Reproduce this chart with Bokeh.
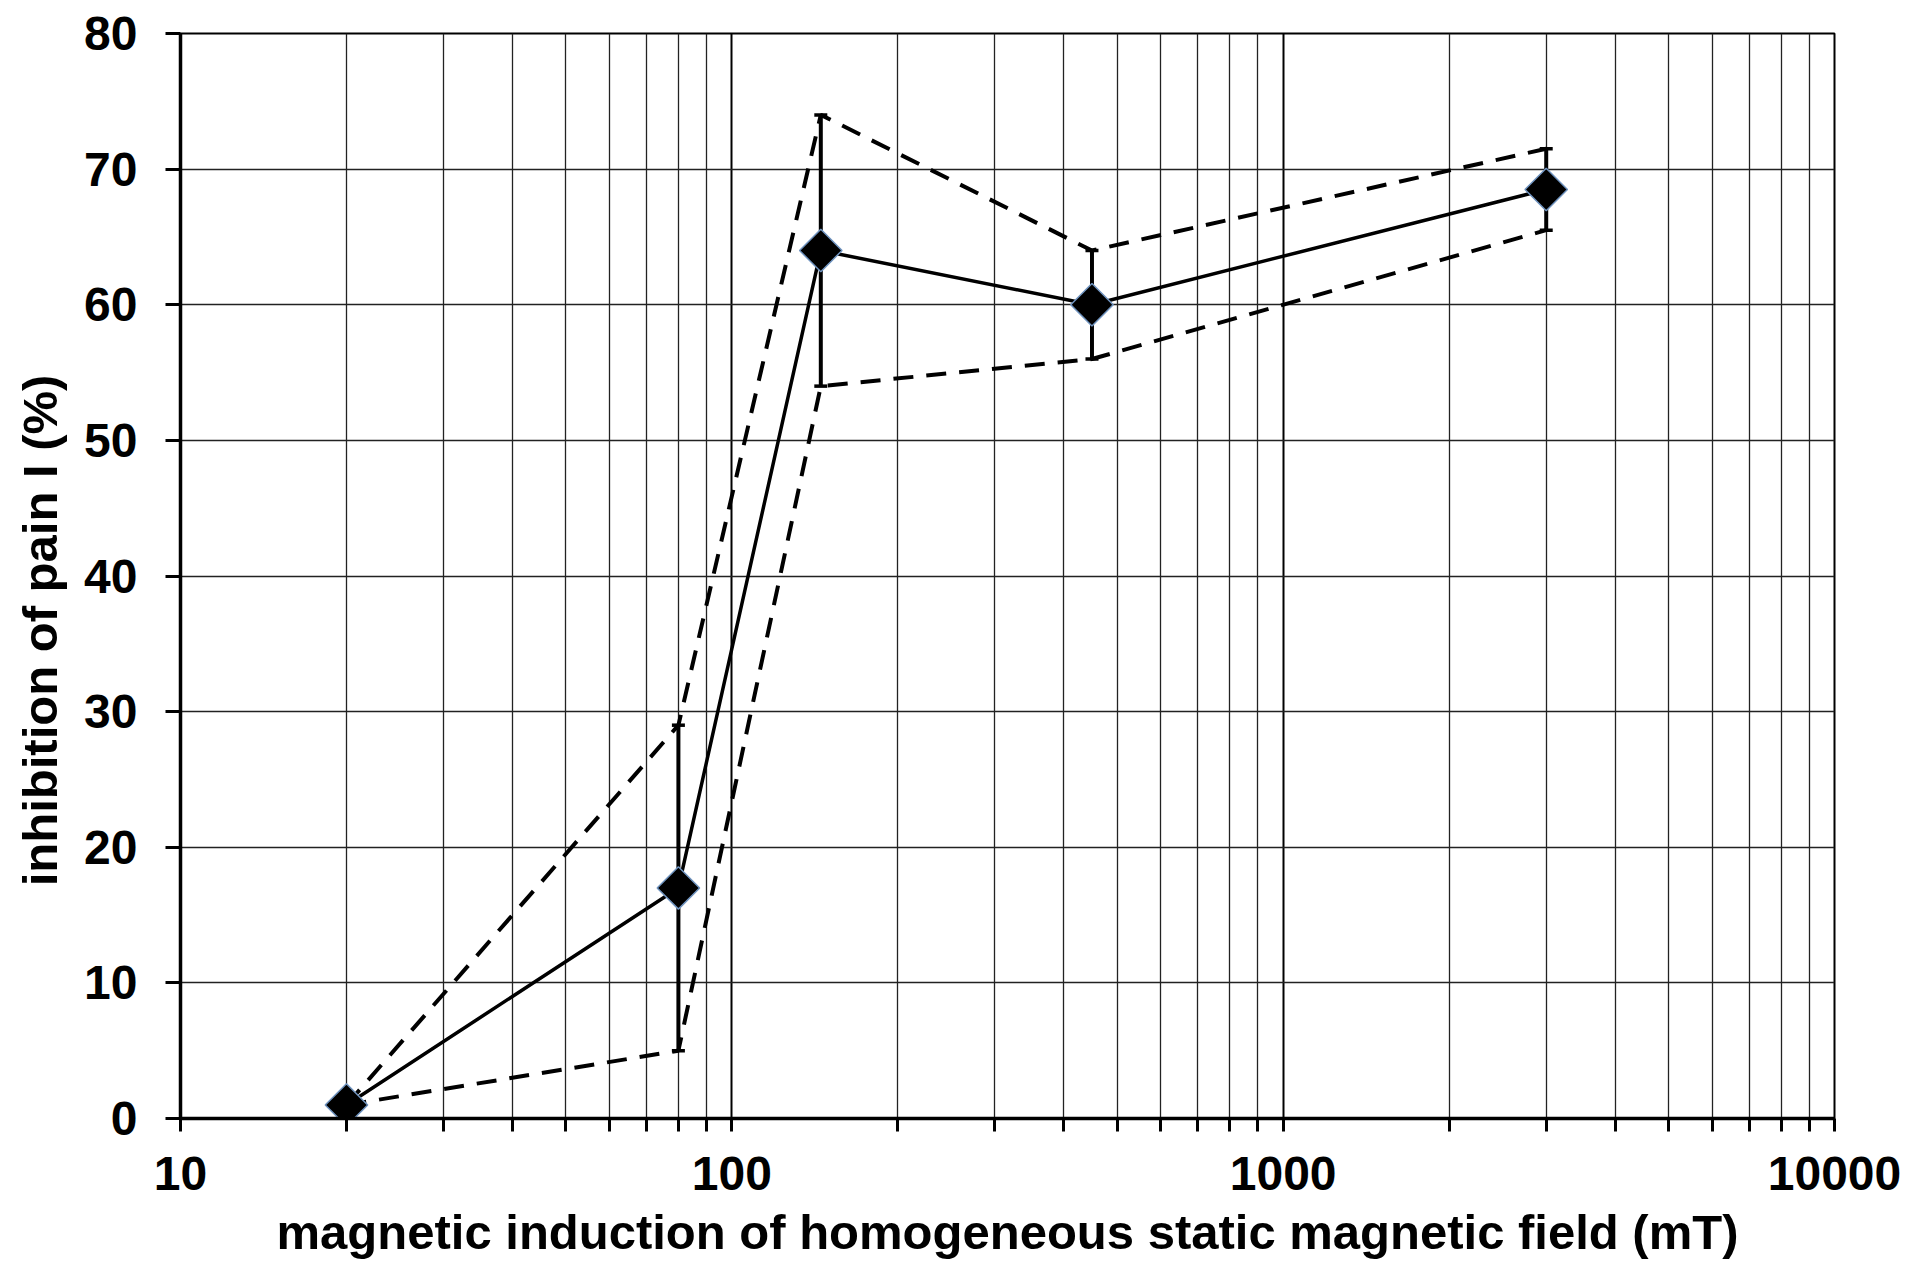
import math
from bokeh.plotting import figure
from bokeh.models import (ColumnDataSource, Whisker, TeeHead,
                          FixedTicker, NumeralTickFormatter)
from bokeh.embed import file_html
from bokeh.resources import INLINE

# ---- data ----
field_mT = [20, 80, 145, 450, 3000]
inhibition = [1, 17, 64, 60, 68.5]
upper = [1, 29, 74, 64, 71.5]
lower = [1, 5, 54, 56, 65.5]

x_ticks = [10, 100, 1000, 10000]
y_ticks = [0, 10, 20, 30, 40, 50, 60, 70, 80]
x_title = "magnetic induction of homogeneous static magnetic field (mT)"
y_title = "inhibition of pain I (%)"

FONT = "Liberation Sans"

W, H = 1911, 1277
ML, MR, MT, MB = 180, 77, 33, 159

p = figure(width=W, height=H, x_axis_type="log",
           x_range=(x_ticks[0], x_ticks[-1]), y_range=(y_ticks[0], y_ticks[-1]),
           output_backend="svg", toolbar_location=None,
           min_border_left=ML, min_border_right=MR,
           min_border_top=MT, min_border_bottom=MB)
p.background_fill_color = "white"
p.border_fill_color = "white"
p.outline_line_color = "black"
p.outline_line_width = 2

minor = [m * d for d in x_ticks[:-1] for m in range(2, 10)]
p.xaxis.ticker = FixedTicker(ticks=x_ticks, minor_ticks=minor)
p.xaxis.formatter = NumeralTickFormatter(format="0")
p.yaxis.ticker = FixedTicker(ticks=y_ticks)

for ax in (p.xaxis, p.yaxis):
    ax.axis_line_width = 3.5
    ax.axis_line_color = "black"
    ax.major_tick_line_width = 3
    ax.major_tick_line_color = "black"
    ax.minor_tick_line_width = 3
    ax.minor_tick_line_color = "black"
    ax.major_tick_in = 0
    ax.minor_tick_in = 0
    ax.major_label_text_font = FONT
    ax.major_label_text_font_style = "bold"
    ax.major_label_text_font_size = "48px"
    ax.major_label_text_color = "black"
    ax.axis_label_text_font = FONT
    ax.axis_label_text_font_style = "bold"
    ax.axis_label_text_font_size = "49px"
    ax.axis_label_text_color = "black"

p.xaxis.major_tick_out = 13
p.xaxis.minor_tick_out = 13
p.xaxis.major_label_standoff = 25
p.xaxis.axis_label = x_title
p.xaxis.axis_label_standoff = 12

p.yaxis.major_tick_out = 15
p.yaxis.minor_tick_out = 0
p.yaxis.major_label_standoff = 28
# trailing no-break spaces shift the centred title toward the bottom, as in the reference
p.yaxis.axis_label = y_title + "\u00a0" * 8
p.yaxis.axis_label_standoff = 14

p.xgrid.grid_line_color = "black"
p.xgrid.grid_line_width = 2
p.xgrid.minor_grid_line_color = "#222222"
p.xgrid.minor_grid_line_width = 1.3
p.ygrid.grid_line_color = "#222222"
p.ygrid.grid_line_width = 1.4

src = ColumnDataSource(dict(x=field_mT, y=inhibition, up=upper, lo=lower))

DASH = "20 13"
p.line("x", "up", source=src, line_color="black", line_width=4, line_dash=DASH)
p.line("x", "lo", source=src, line_color="black", line_width=4, line_dash=DASH)

wh = Whisker(source=src, base="x", upper="up", lower="lo",
             line_color="black", line_width=4,
             upper_head=TeeHead(size=13, line_width=3.5, line_color="black"),
             lower_head=TeeHead(size=13, line_width=3.5, line_color="black"))
p.add_layout(wh)

p.line("x", "y", source=src, line_color="black", line_width=3.5)
p.scatter("x", "y", source=src, marker="square", size=30, angle=math.pi / 4,
          fill_color="black", line_color="#6f93bf", line_width=1.5)

open("out.html", "w").write(file_html(p, INLINE))
